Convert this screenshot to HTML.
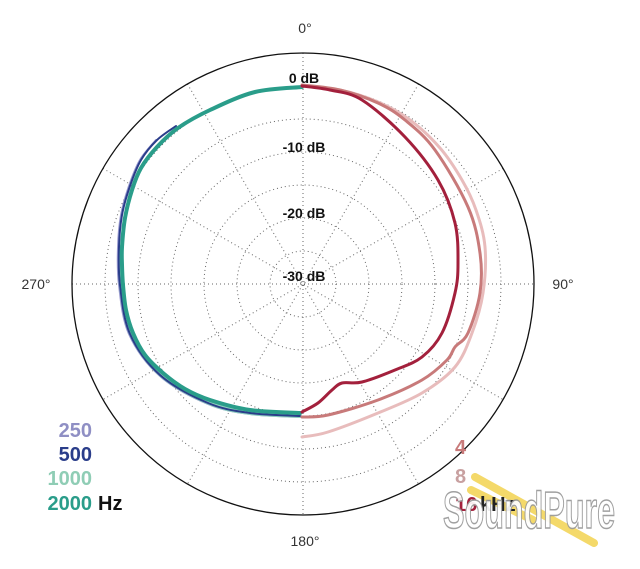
<!DOCTYPE html>
<html><head><meta charset="utf-8"><style>
html,body{margin:0;padding:0;background:#fff;}
svg{display:block;font-family:"Liberation Sans","DejaVu Sans",sans-serif;}
</style></head><body>
<svg width="640" height="569" viewBox="0 0 640 569" xmlns="http://www.w3.org/2000/svg">
<g fill="none" stroke="#666" stroke-width="1" stroke-dasharray="1 3">
<circle cx="303" cy="284" r="198"/><circle cx="303" cy="284" r="165"/><circle cx="303" cy="284" r="132"/>
<circle cx="303" cy="284" r="99"/><circle cx="303" cy="284" r="66"/><circle cx="303" cy="284" r="33"/>
<line x1="303" y1="53" x2="303" y2="515"/>
<line x1="72" y1="284" x2="534" y2="284"/>
<line x1="187.5" y1="84" x2="418.5" y2="484"/>
<line x1="418.5" y1="84" x2="187.5" y2="484"/>
<line x1="103" y1="168.5" x2="503" y2="399.5"/>
<line x1="503" y1="168.5" x2="103" y2="399.5"/>
</g>
<circle cx="303" cy="284" r="231" fill="none" stroke="#111" stroke-width="1.3"/>
<g font-size="14" fill="#333" text-anchor="middle">
<text x="305" y="33">0°</text><text x="305" y="546">180°</text>
<text x="36" y="289">270°</text><text x="563" y="289">90°</text>
</g>
<g font-size="14" font-weight="bold" fill="#111" text-anchor="middle">
<text x="304" y="83">0 dB</text><text x="304" y="152">-10 dB</text>
<text x="304" y="218">-20 dB</text><text x="304" y="281">-30 dB</text>
</g>
<g fill="none" stroke-linejoin="round" stroke-linecap="round">
<polyline class="s" stroke="#9a9ad0" stroke-width="2" points="300,417 250,414 208,404 160,376 129,334 119,285 118,247 121,215 129,186 140,160 156,140"/>
<polyline class="s" stroke="#8fcfbf" stroke-width="4" points="300,416 250,413 209,403 161,375 131,334 121,285 121,247"/>
<polyline class="s" stroke="#2a3d8a" stroke-width="2" points="300,416 250,413 208,403 160,375 130,334 120,285 119,247 122,215 130,186 141,160 157,140 176,126"/>
<polyline class="s" stroke="#2a9d8a" stroke-width="4" points="302,87 255,92 210,110 178,128 157,147 141,168 132,190 125,218 122,247 122,265 123,285 126,310 133,333 145,355 163,373 185,389 210,400 250,410 300,413"/>
<polyline class="s" stroke="#e8bcbc" stroke-width="3" points="302,437 328,432 378,413 422,393 455,367 472,333 483,293 485,247 476,210 462,180 440,148 410,120 378,102 340,90 302,86"/>
<polyline class="s" stroke="#c87a7a" stroke-width="3" points="302,417 328,415 378,400 422,380 447,360 455,347 468,333 480,293 480,253 468,207 435,150 405,120 378,103 340,90 302,85"/>
<polyline class="s" stroke="#a3203c" stroke-width="3" points="302,412 318,403 332,390 342,383 362,382 395,370 422,357 442,333 455,293 458,263 455,223 438,180 405,137 362,100 330,90 302,86"/>
</g>
<g font-size="20" font-weight="bold" text-anchor="end">
<text x="92" y="437" fill="#8f8fc4">250</text>
<text x="92" y="461" fill="#2a3d8a">500</text>
<text x="92" y="485" fill="#8fcdb5">1000</text>
<text x="92" y="510" fill="#2a9d8a">2000</text>
</g>
<text x="98" y="510" font-size="20" font-weight="bold" fill="#111">Hz</text>
<g stroke="#f3d55a" stroke-width="8" stroke-linecap="round" opacity="0.9">
<line x1="475" y1="477" x2="594" y2="543"/>
<line x1="471" y1="490" x2="533" y2="520"/>
</g>
<g font-size="20" font-weight="bold">
<text x="455" y="454" fill="#c87a7a">4</text>
<text x="455" y="483" fill="#c8a0a0">8</text>
<text x="455" y="511" fill="#a3203c">16</text>
<text x="480" y="511" fill="#222">kHz</text>
</g>
<text x="443" y="528" font-size="52" font-weight="bold" fill="#fff" stroke="#999" stroke-width="1.5" textLength="172" lengthAdjust="spacingAndGlyphs" opacity="0.92">SoundPure</text>
</svg>
<script>
document.querySelectorAll('polyline.s').forEach(function(pl){
  var p=pl.getAttribute('points').trim().split(/\s+/).map(function(s){return s.split(',').map(Number);});
  var d='M'+p[0][0]+','+p[0][1];
  for(var i=0;i<p.length-1;i++){
    var p0=p[i-1]||p[i],p1=p[i],p2=p[i+1],p3=p[i+2]||p2;
    var c1=[p1[0]+(p2[0]-p0[0])/6,p1[1]+(p2[1]-p0[1])/6];
    var c2=[p2[0]-(p3[0]-p1[0])/6,p2[1]-(p3[1]-p1[1])/6];
    d+=' C'+c1.join(',')+' '+c2.join(',')+' '+p2.join(',');
  }
  var path=document.createElementNS('http://www.w3.org/2000/svg','path');
  path.setAttribute('d',d);
  ['stroke','stroke-width'].forEach(function(a){path.setAttribute(a,pl.getAttribute(a));});
  pl.parentNode.replaceChild(path,pl);
});
</script>
</body></html>
